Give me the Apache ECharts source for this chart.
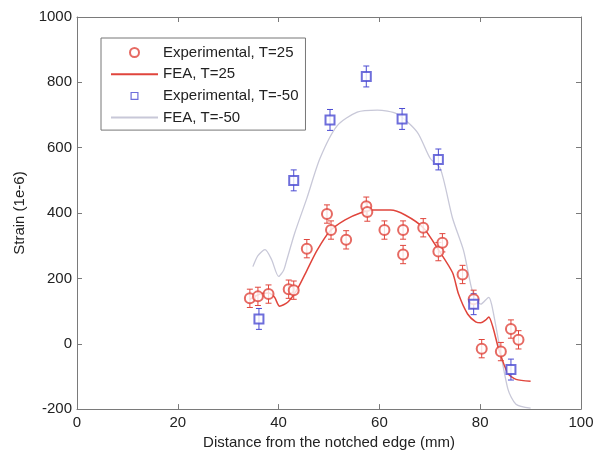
<!DOCTYPE html>
<html>
<head>
<meta charset="utf-8">
<script src="https://cdn.jsdelivr.net/npm/echarts@6/dist/echarts.min.js"></script>
<style>
html,body{margin:0;padding:0;background:#fff;}
#chart{width:601px;height:455px;}
</style>
</head>
<body>
<div id="chart"></div>
<script>
// Experimental, T=25 (red circles)
const expRedX = [34.3, 35.9, 38.0, 42.0, 43.0, 45.6, 49.6, 50.4, 53.4, 57.4, 57.6, 61.0, 64.7, 64.7, 68.7, 71.7, 72.5, 76.5, 78.7, 80.3, 84.1, 86.1, 87.6];
const expRedY = [139, 145, 152, 167, 164, 291, 397, 348, 318, 421, 403, 348, 348, 273, 355, 282, 309, 212, 136, -15, -24, 45, 12];
const expRedErr = 28;

// Experimental, T=-50 (blue squares)
const expBlueX = [36.1, 43.0, 50.2, 57.4, 64.5, 71.7, 78.7, 86.1];
const expBlueY = [76, 500, 685, 818, 688, 564, 121, -79];
const expBlueErr = 32;

// FEA, T=25 (red line)
const feaRedX = [34.3, 36.3, 38.0, 39.2, 40.2, 41.8, 43.6, 45.6, 47.6, 50.2, 53.2, 56.2, 58.8, 62.2, 65.1, 68.7, 71.7, 74.5, 75.7, 77.5, 79.1, 80.1, 81.1, 81.7, 82.5, 83.7, 85.5, 87.1, 90.0];
const feaRedY = [136, 152, 155, 142, 115, 127, 164, 224, 285, 345, 379, 400, 409, 409, 394, 355, 288, 218, 152, 91, 67, 64, 73, 82, 52, -18, -91, -109, -115];

// FEA, T=-50 (grey line)
const feaBlueX = [34.9, 35.9, 37.3, 38.6, 40.0, 41.0, 41.6, 43.2, 45.6, 48.2, 51.6, 55.6, 59.6, 63.5, 67.5, 70.1, 72.1, 74.5, 76.7, 78.1, 78.9, 80.1, 81.7, 82.3, 83.5, 85.5, 87.1, 90.0];
const feaBlueY = [236, 270, 288, 258, 206, 225, 255, 339, 445, 567, 667, 709, 715, 703, 648, 567, 536, 385, 285, 182, 142, 121, 142, 118, 21, -139, -185, -197];

const xTicks = {min: 0, max: 100, interval: 20};
const yTicks = {min: -200, max: 1000, interval: 200};
const legendNames = ['Experimental, T=25', 'FEA, T=25', 'Experimental, T=-50', 'FEA, T=-50'];

const RED = '#e0453c';
const BLUE = '#4a4ad2';
const GREY = '#c8c8d8';
const FONT = 'Liberation Sans, Arial, sans-serif';

// square outline icon inside a 47x9 box (moveTo points fix the bounding box)
const SQUARE_ICON = 'path://M0,0 M47,9 M19.5,0.5 L27.5,0.5 L27.5,8.5 L19.5,8.5 Z M20.7,1.7 L20.7,7.3 L26.3,7.3 L26.3,1.7 Z';

const zip = (xs, ys) => xs.map((x, i) => [x, ys[i]]);
const errData = (xs, ys, e) => xs.map((x, i) => [x, ys[i], e]);

function errRender(color) {
  return function (params, api) {
    const x = api.value(0), y = api.value(1), e = api.value(2);
    const top = api.coord([x, y + e]);
    const bot = api.coord([x, y - e]);
    const cw = 3;
    const st = {stroke: color, lineWidth: 1};
    return {
      type: 'group',
      children: [
        {type: 'line', shape: {x1: top[0], y1: top[1], x2: bot[0], y2: bot[1]}, style: st},
        {type: 'line', shape: {x1: top[0] - cw, y1: top[1], x2: top[0] + cw, y2: top[1]}, style: st},
        {type: 'line', shape: {x1: bot[0] - cw, y1: bot[1], x2: bot[0] + cw, y2: bot[1]}, style: st}
      ]
    };
  };
}

const axisCommon = {
  axisLine: {show: true, onZero: false, lineStyle: {color: '#7a7a7a', width: 1}},
  axisTick: {show: true, inside: true, length: 5, lineStyle: {color: '#7a7a7a'}},
  splitLine: {show: false},
  axisLabel: {color: '#222', fontSize: 15, fontFamily: FONT, formatter: v => String(v)}
};

const chart = echarts.init(document.getElementById('chart'), null, {renderer: 'canvas'});
chart.setOption({
  animation: false,
  backgroundColor: '#fff',
  grid: {left: 77, right: 20, top: 17, bottom: 41, containLabel: false},
  legend: {
    data: [
      {name: legendNames[0], icon: 'emptyCircle'},
      {name: legendNames[1], itemStyle: {opacity: 0}},
      {name: legendNames[2], icon: SQUARE_ICON, itemStyle: {color: BLUE, borderWidth: 0}},
      {name: legendNames[3], itemStyle: {opacity: 0}}
    ],
    orient: 'vertical',
    left: 101, top: 38,
    padding: [7, 7, 5, 9],
    itemWidth: 47, itemHeight: 9, itemGap: 6.7,
    textStyle: {fontSize: 15, lineHeight: 15, color: '#222', fontFamily: FONT},
    borderColor: '#777', borderWidth: 1, backgroundColor: '#fff',
    selectedMode: false
  },
  xAxis: [
    Object.assign({}, axisCommon, {
      type: 'value', position: 'bottom', min: xTicks.min, max: xTicks.max, interval: xTicks.interval,
      name: 'Distance from the notched edge (mm)', nameLocation: 'middle', nameGap: 25,
      nameTextStyle: {fontSize: 15, color: '#222', fontFamily: FONT},
      axisLabel: Object.assign({}, axisCommon.axisLabel, {margin: 6})
    }),
    Object.assign({}, axisCommon, {
      type: 'value', position: 'top', min: xTicks.min, max: xTicks.max, interval: xTicks.interval,
      axisLabel: {show: false}
    })
  ],
  yAxis: [
    Object.assign({}, axisCommon, {
      type: 'value', position: 'left', min: yTicks.min, max: yTicks.max, interval: yTicks.interval,
      name: 'Strain (1e-6)', nameLocation: 'middle', nameGap: 47,
      nameTextStyle: {fontSize: 15, color: '#222', fontFamily: FONT},
      axisLabel: Object.assign({}, axisCommon.axisLabel, {margin: 5})
    }),
    Object.assign({}, axisCommon, {
      type: 'value', position: 'right', min: yTicks.min, max: yTicks.max, interval: yTicks.interval,
      axisLabel: {show: false}
    })
  ],
  series: [
    {
      name: 'FEA, T=-50', type: 'line', data: zip(feaBlueX, feaBlueY),
      symbol: 'none', smooth: 0.25, lineStyle: {color: GREY, width: 1.3}, itemStyle: {color: GREY}, z: 1
    },
    {
      name: 'FEA, T=25', type: 'line', data: zip(feaRedX, feaRedY),
      symbol: 'none', smooth: 0.25, lineStyle: {color: RED, width: 1.5}, itemStyle: {color: RED}, z: 2
    },
    {
      name: 'errRed', type: 'custom', data: errData(expRedX, expRedY, expRedErr),
      renderItem: errRender(RED), encode: {x: 0, y: 1}, z: 3, silent: true
    },
    {
      name: 'errBlue', type: 'custom', data: errData(expBlueX, expBlueY, expBlueErr),
      renderItem: errRender(BLUE), encode: {x: 0, y: 1}, z: 3, silent: true
    },
    {
      name: 'Experimental, T=25', type: 'scatter', data: zip(expRedX, expRedY),
      symbol: 'emptyCircle', symbolSize: 10,
      itemStyle: {color: RED, borderColor: RED, borderWidth: 1.2}, z: 4
    },
    {
      name: 'Experimental, T=-50', type: 'scatter', data: zip(expBlueX, expBlueY),
      symbol: 'emptyRect', symbolSize: 9,
      itemStyle: {color: BLUE, borderColor: BLUE, borderWidth: 1.2}, z: 4
    }
  ]
});
</script>
</body>
</html>
